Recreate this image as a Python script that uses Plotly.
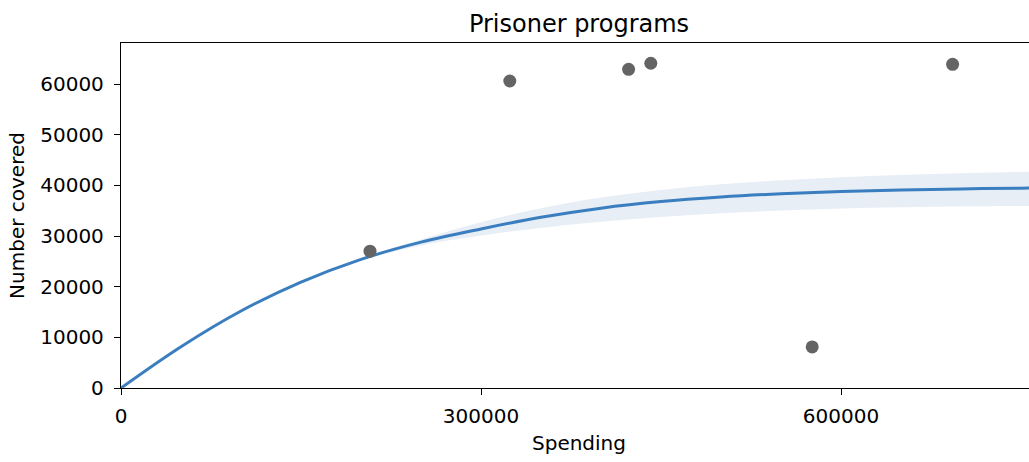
import plotly.graph_objects as go

# Observed programs
spending = [207500, 324000, 423000, 441500, 576000, 693000]
covered = [27000, 60600, 62900, 64100, 8100, 63900]

# Fitted curve and its band
curve_x = [0, 50000, 100000, 150000, 200000, 250000, 300000, 350000, 400000,
           450000, 500000, 550000, 600000, 650000, 700000, 750000, 763333]
curve_y = [0, 8150, 15200, 20900, 25400, 28800, 31400, 33700, 35500,
           36800, 37700, 38350, 38800, 39100, 39300, 39450, 39490]
band_lo = [0, 8150, 15200, 20880, 25250, 28150, 30100, 31600, 32800,
           33750, 34500, 35050, 35450, 35700, 35850, 35930, 35950]
band_hi = [0, 8150, 15200, 20920, 25550, 29300, 32700, 35500, 37600,
           39100, 40200, 41000, 41600, 42050, 42380, 42630, 42700]

x_ticks = [0, 300000, 600000]
y_ticks = [0, 10000, 20000, 30000, 40000, 50000, 60000]

font = "DejaVu Sans, sans-serif"
fig = go.Figure()
fig.add_trace(go.Scatter(x=curve_x, y=band_lo, mode="lines", line=dict(width=0, shape="spline"),
                         hoverinfo="skip", showlegend=False))
fig.add_trace(go.Scatter(x=curve_x, y=band_hi, mode="lines", line=dict(width=0, shape="spline"),
                         fill="tonexty", fillcolor="#e7eef6", hoverinfo="skip", showlegend=False))
fig.add_trace(go.Scatter(x=curve_x, y=curve_y, mode="lines",
                         line=dict(color="#3a7ebf", width=3, shape="spline"), showlegend=False))
fig.add_trace(go.Scatter(x=spending, y=covered, mode="markers",
                         marker=dict(color="#646464", size=13), showlegend=False))

fig.update_layout(
    width=1037, height=462,
    margin=dict(l=121, r=0, t=43, b=74),
    paper_bgcolor="white", plot_bgcolor="white",
    font=dict(family=font, size=20, color="black"),
    title=dict(text="Prisoner programs", x=579/1037, xanchor="center", xref="container",
               y=1 - 24/462, yanchor="middle", font=dict(size=24)),
)
fig.update_xaxes(range=[0, 763333], tickvals=x_ticks, ticktext=[str(v) for v in x_ticks],
                 showgrid=False, zeroline=False, showline=True, linecolor="black", linewidth=1.3,
                 mirror=True, ticks="outside", ticklen=6, tickwidth=1.3, tickcolor="black",
                 ticklabelstandoff=4, automargin=False,
                 title=dict(text="Spending", font=dict(size=20), standoff=8))
fig.update_yaxes(range=[0, 68100], tickvals=y_ticks, ticktext=[str(v) for v in y_ticks],
                 showgrid=False, zeroline=False, showline=True, linecolor="black", linewidth=1.3,
                 mirror=False, ticks="outside", ticklen=6, tickwidth=1.3, tickcolor="black",
                 ticklabelstandoff=6, automargin=False,
                 title=dict(text="Number covered", font=dict(size=20), standoff=10))

fig.write_html("out.html", config={"displayModeBar": False},
               post_script="document.body.style.margin='0';document.body.style.overflow='hidden';")
